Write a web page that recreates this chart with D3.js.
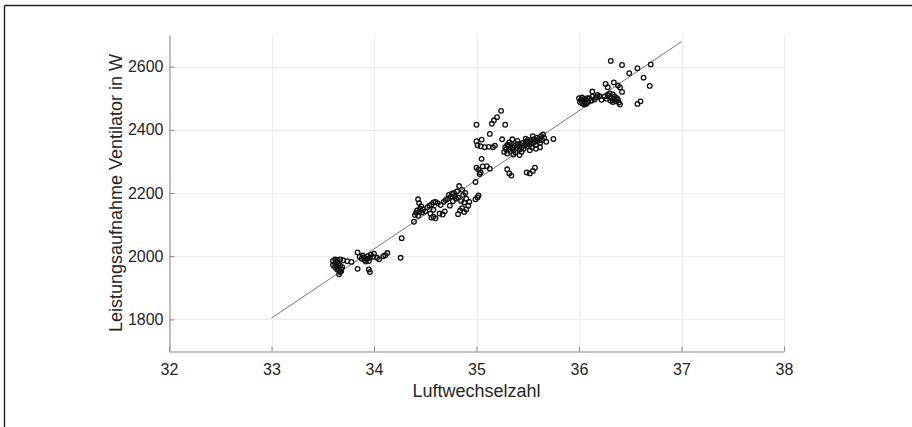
<!DOCTYPE html>
<head>
    <meta charset="utf-8">
</head>

<style type="text/css">
    body { margin: 0; background: #fff; }
    svg { display: block; font-family: Arial, "Liberation Sans", sans-serif; }
    .grid line { stroke: #ececec; stroke-width: 1; }
    .axis path, .axis line { stroke: #888; stroke-width: 1; }
    .axis text { fill: #262626; font-size: 16px; }
    .g-dot { fill: none; stroke: #111; stroke-width: 1.3; }
    .fit-line { stroke: #777; stroke-width: 1; fill: none; }
    .axis-title { fill: #262626; font-size: 18px; }
    .frame { stroke: #222; stroke-width: 1.4; }
</style>

<body>
<div class="g-chart-container"></div>
</body>

<script src="https://d3js.org/d3.v7.min.js"></script>

<script>

// x = Luftwechselzahl, y = Leistungsaufnahme in W
var xTicks = [32, 33, 34, 35, 36, 37, 38];
var yTicks = [1800, 2000, 2200, 2400, 2600];

var clusterA = [[33.60,1985],[33.62,1990],[33.64,1988],[33.67,1990],[33.70,1987],[33.74,1984],[33.78,1982],
    [33.60,1972],[33.62,1977],[33.64,1968],[33.65,1962],[33.66,1956],[33.67,1950],[33.66,1943],[33.68,1960],
    [33.65,1975],[33.63,1982],[33.67,1970],[33.69,1965],[33.64,1958],[33.68,1952],[33.62,1965]];

var clusterB = [[33.84,2012],[33.86,1998],[33.88,1992],[33.90,1996],[33.91,1988],[33.93,1992],[33.94,2000],
    [33.96,1995],[33.97,2005],[33.99,1998],[33.95,1985],[33.92,1983],[33.89,2002],[33.84,1960],[33.95,1958],
    [33.96,1950],[34.00,2008],[34.03,1995],[34.05,1990],[34.09,2000],[34.11,2003],[34.13,2010],[34.27,2057],
    [34.26,1995]];

var clusterC = [[34.39,2109],[34.40,2130],[34.41,2138],[34.42,2145],[34.43,2128],[34.44,2140],[34.45,2150],
    [34.43,2180],[34.44,2168],[34.46,2158],[34.47,2138],[34.48,2148],[34.50,2142],[34.52,2155],[34.54,2160],
    [34.56,2164],[34.58,2170],[34.60,2172],[34.62,2168],[34.58,2147],[34.55,2135],[34.56,2122],[34.58,2125],
    [34.60,2120],[34.64,2135],[34.67,2132],[34.69,2142],[34.65,2162],[34.68,2172],[34.70,2178],[34.72,2182],
    [34.74,2160],[34.75,2188],[34.77,2174],[34.79,2190],[34.80,2182],[34.82,2186],[34.78,2200],[34.81,2205],
    [34.83,2222],[34.76,2198],[34.73,2194],[34.82,2133],[34.84,2145],[34.86,2152],[34.88,2140],[34.90,2148],
    [34.92,2160],[34.88,2170],[34.90,2182],[34.87,2194],[34.86,2210],[34.89,2200],[34.85,2175],[34.93,2172],
    [34.99,2180],[35.01,2186],[35.02,2192],[34.99,2235]];

var clusterD = [[35.00,2416],[35.00,2364],[35.01,2351],[35.05,2369],[35.08,2345],[35.13,2387],[35.15,2419],
    [35.17,2430],[35.20,2440],[35.24,2460],[35.28,2416],[35.12,2346],[35.16,2345],[35.25,2370],[35.00,2280],
    [35.02,2274],[35.04,2265],[35.06,2284],[35.03,2260],[35.05,2308],[35.10,2285],[35.13,2277],[35.30,2275],
    [35.32,2262],[35.34,2255],[35.49,2265],[35.52,2262],[35.55,2270],[35.57,2280],[35.04,2348],[35.18,2350]];

var clusterE = [[35.27,2330],[35.28,2345],[35.29,2338],[35.30,2325],[35.31,2350],[35.32,2340],[35.33,2332],
    [35.34,2355],[35.35,2345],[35.36,2336],[35.37,2350],[35.38,2328],[35.39,2342],[35.40,2355],[35.41,2348],
    [35.42,2338],[35.43,2352],[35.44,2345],[35.45,2358],[35.46,2340],[35.47,2350],[35.48,2362],[35.49,2355],
    [35.50,2348],[35.51,2360],[35.52,2352],[35.53,2366],[35.54,2345],[35.55,2358],[35.56,2370],[35.57,2362],
    [35.58,2352],[35.59,2375],[35.60,2365],[35.61,2372],[35.62,2358],[35.63,2380],[35.64,2368],[35.65,2385],
    [35.66,2374],[35.58,2340],[35.52,2335],[35.44,2330],[35.36,2322],[35.48,2372],[35.40,2365],[35.32,2360],
    [35.55,2380],[35.62,2345],[35.75,2371],[35.68,2362],[35.30,2352],[35.35,2370],[35.42,2320],[35.50,2368]];

var clusterF = [[36.00,2500],[36.02,2495],[36.03,2484],[36.04,2490],[36.05,2480],[36.06,2486],[36.07,2495],
    [36.08,2500],[36.05,2498],[36.03,2502],[36.09,2488],[36.10,2500],[36.12,2492],[36.13,2505],[36.15,2496],
    [36.17,2502],[36.18,2510],[36.20,2506],[36.13,2521],[36.07,2482],[36.01,2488]];

var clusterG = [[36.31,2618],[36.42,2605],[36.49,2579],[36.57,2595],[36.70,2607],[36.63,2565],[36.69,2539],
    [36.60,2490],[36.57,2482],[36.34,2550],[36.26,2545],[36.28,2535],[36.38,2540],[36.40,2534],[36.42,2520],
    [36.25,2505],[36.27,2498],[36.28,2510],[36.30,2502],[36.31,2492],[36.32,2500],[36.33,2512],[36.34,2496],
    [36.35,2505],[36.36,2490],[36.37,2500],[36.38,2495],[36.39,2486],[36.40,2480],[36.30,2515],[36.22,2495],
    [36.33,2488]];

// linear fit, end points
var fitX = [33, 37];
var fitY = [1804, 2679];

var W = 912, H = 427;

var svg = d3.select(".g-chart-container").append("svg")
    .attr("width", W)
    .attr("height", H);

var xscale = d3.scaleLinear().domain([32, 38]).range([169, 784]);
var yscale = d3.scaleLinear().domain([1700, 2700]).range([351, 35]);

// outer frame (only top and left edge visible)
svg.append("line").attr("class", "frame")
    .attr("x1", 4.5).attr("x2", W).attr("y1", 5.5).attr("y2", 5.5);
svg.append("line").attr("class", "frame")
    .attr("x1", 4.5).attr("x2", 4.5).attr("y1", 5.5).attr("y2", H);

// grid
var grid = svg.append("g").attr("class", "grid");
grid.selectAll(".vgrid")
    .data(xTicks)
    .enter().append("line")
    .attr("x1", function(d) { return Math.round(xscale(d)) + 0.5; })
    .attr("x2", function(d) { return Math.round(xscale(d)) + 0.5; })
    .attr("y1", yscale(2700))
    .attr("y2", yscale(1700));
grid.selectAll(".hgrid")
    .data(yTicks)
    .enter().append("line")
    .attr("x1", xscale(32))
    .attr("x2", xscale(38))
    .attr("y1", function(d) { return Math.round(yscale(d)) + 0.5; })
    .attr("y2", function(d) { return Math.round(yscale(d)) + 0.5; });

var xAxis = d3.axisBottom(xscale)
    .tickValues(xTicks)
    .tickFormat(d3.format("d"))
    .tickSizeInner(-5)
    .tickSizeOuter(0)
    .tickPadding(12);

var yAxis = d3.axisLeft(yscale)
    .tickValues(yTicks)
    .tickFormat(d3.format("d"))
    .tickSizeInner(-5)
    .tickSizeOuter(0)
    .tickPadding(6);

svg.append("g")
    .attr("class", "xaxis axis")
    .attr("transform", "translate(0," + 351.5 + ")")
    .call(xAxis);

svg.append("g")
    .attr("class", "yaxis axis")
    .attr("transform", "translate(" + 169.5 + ",0)")
    .call(yAxis);

// fit line
var fitData = fitX.map(function(x, i) { return {x: x, y: fitY[i]}; });
var line = d3.line()
    .x(function(d) { return xscale(d.x); })
    .y(function(d) { return yscale(d.y); });

svg.append("path")
    .attr("class", "fit-line")
    .attr("d", line(fitData));

// measured points
var allPoints = [].concat(clusterA, clusterB, clusterC, clusterD, clusterE, clusterF, clusterG);

svg.append("g").selectAll(".g-dot")
    .data(allPoints)
    .enter()
    .append("circle")
    .attr("class", "g-dot")
    .attr("r", 2.3)
    .attr("cx", function(d) { return xscale(d[0]); })
    .attr("cy", function(d) { return yscale(d[1]); });

// axis titles
svg.append("text")
    .attr("class", "axis-title")
    .attr("x", xscale(35))
    .attr("y", 397)
    .attr("text-anchor", "middle")
    .text("Luftwechselzahl");

svg.append("text")
    .attr("class", "axis-title")
    .attr("transform", "translate(122," + 193 + ") rotate(-90)")
    .attr("text-anchor", "middle")
    .text("Leistungsaufnahme Ventilator in W");

</script>
